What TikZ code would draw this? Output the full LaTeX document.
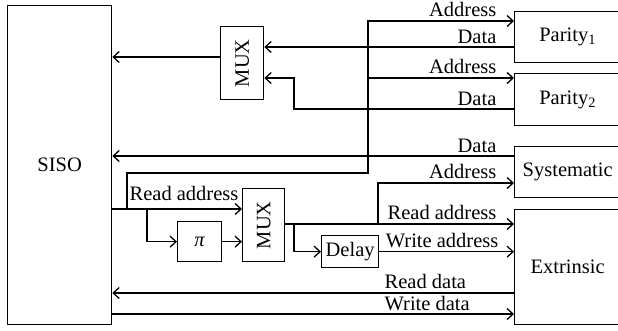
\documentclass[tikz,border=0pt]{standalone}
\usepackage{fontspec}
\setmainfont{Liberation Serif}
\usetikzlibrary{arrows.meta}
\begin{document}
\begin{tikzpicture}[x=1pt,y=-1pt,
  line width=1.3pt,
  >={Straight Barb[length=6pt,width=11pt]},
  every node/.style={font=\fontsize{20.5}{24}\selectfont},
  blk/.style={draw, inner sep=0pt, anchor=north west},
  lbl/.style={inner sep=0pt, anchor=base east},
  lbll/.style={inner sep=0pt, anchor=base west}]
\useasboundingbox (0,0) rectangle (618,330);

% rows and columns of the wiring
\coordinate (rA1) at (0,21);
\coordinate (rD1) at (0,47);
\coordinate (rMo) at (0,57);
\coordinate (rA2) at (0,78);
\coordinate (rD2) at (0,109);
\coordinate (rDs) at (0,156);
\coordinate (rBus) at (0,173);
\coordinate (rAs) at (0,183);
\coordinate (rRa) at (0,209);
\coordinate (rRe) at (0,224);
\coordinate (rRd) at (0,293);
\coordinate (rWd) at (0,314);
\coordinate (cTap) at (127,0);
\coordinate (cPi) at (147,0);
\coordinate (cP2) at (294,0);
\coordinate (cBus) at (368,0);
\coordinate (cSy) at (378,0);

% blocks
\node[blk, minimum width=104pt, minimum height=319pt] (siso) at (7,5) {SISO};
\node[blk, minimum width=43pt, minimum height=73pt] (mux1) at (220,26) {};
\node[rotate=90] (mux1t) at (mux1.center) {MUX};
\node[blk, minimum width=42pt, minimum height=73pt] (mux2) at (242,188) {};
\node[rotate=90] (mux2t) at (mux2.center) {MUX};
\node[blk, minimum width=44pt, minimum height=40pt] (pi) at (177,221) {\textit{π}};
\node[blk, minimum width=57pt, minimum height=32pt] (delay) at (321,235) {Delay};
\node[blk, minimum width=106pt, minimum height=51pt] (parity1) at (514,11) {Parity\textsubscript{1}};
\node[blk, minimum width=106pt, minimum height=52pt] (parity2) at (514,73) {Parity\textsubscript{2}};
\node[blk, minimum width=106pt, minimum height=51pt] (syst) at (514,146) {Systematic};
\node[blk, minimum width=106pt, minimum height=115pt] (extr) at (514,209) {Extrinsic};

% parity data through the multiplexer
\draw[->] (mux1.west |- rMo) -- (siso.east |- rMo);
\draw[->] (parity1.west |- rD1) -- (mux1.east |- rD1);
\draw[->] (parity2.west |- rD2) -| (cP2 |- rA2) -- (mux1.east |- rA2);

% read address bus
\draw[->] (siso.east |- rRa) -| (cTap |- rBus) -| (cBus |- rA1) -- (parity1.west |- rA1);
\draw[->] (cBus |- rA2) -- (parity2.west |- rA2);
\draw[->] (syst.west |- rDs) -- (siso.east |- rDs);
\draw[->] (cTap |- rRa) -- (mux2.west |- rRa);
\draw[->] (cPi |- rRa) |- (pi.west);
\draw[->] (pi.east) -- (mux2.west |- pi.east);

% interleaved addresses
\draw[->] (mux2.east |- rRe) -- (extr.west |- rRe);
\draw[->] (cP2 |- rRe) |- (delay.west);
\draw[->] (cSy |- rRe) |- (syst.west |- rAs);
\draw[->] (delay.east) -- (extr.west |- delay.east);

% extrinsic data
\draw[->] (extr.west |- rRd) -- (siso.east |- rRd);
\draw[->] (siso.east |- rWd) -- (extr.west |- rWd);

% labels
\node[lbl] (lA1) at (497,16) {Address};
\node[lbl] (lD1) at (497,43) {Data};
\node[lbl] (lA2) at (497,73) {Address};
\node[lbl] (lD2) at (497,105) {Data};
\node[lbl] (lDs) at (497,152) {Data};
\node[lbl] (lAs) at (497,178) {Address};
\node[lbl] (lRa) at (497,219) {Read address};
\node[lbl] (lWa) at (499,247) {Write address};
\node[lbll] (lRd) at (384,288) {Read data};
\node[lbll] (lWd) at (384,310) {Write data};
\node[lbl] (lRa2) at (239,200) {Read address};
\end{tikzpicture}
\end{document}
